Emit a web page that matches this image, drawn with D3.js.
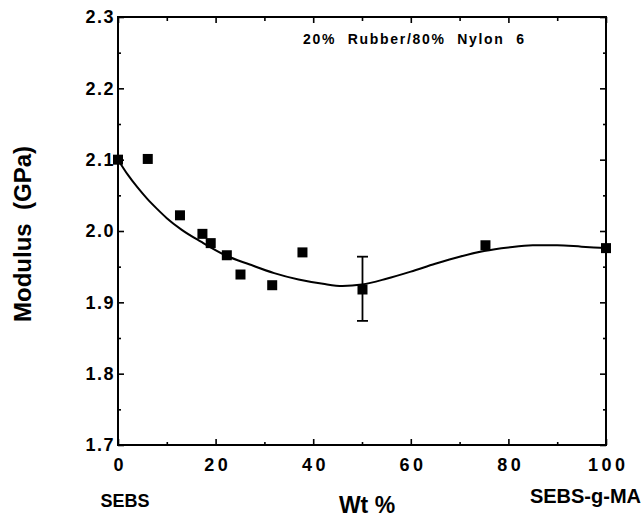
<!DOCTYPE html>
<html>
<head>
<meta charset="utf-8">
<script src="https://cdn.jsdelivr.net/npm/d3@7"></script>
<style>
  html, body { margin: 0; padding: 0; background: #fff; }
  svg { display: block; }
  text { font-family: "Liberation Sans", Arial, Helvetica, sans-serif; font-weight: bold; fill: #000; }
</style>
</head>
<body>
<svg id="chart" width="644" height="518"></svg>
<script>
// Modulus of 20% rubber / 80% nylon 6 blends vs. SEBS-g-MA fraction in the rubber phase
const wtPercent = [0, 6.1, 12.7, 17.3, 19.0, 22.3, 25.1, 31.6, 37.8, 50.1, 75.3, 100];
const modulus   = [2.100, 2.101, 2.022, 1.996, 1.983, 1.966, 1.939, 1.924, 1.970, 1.918, 1.980, 1.976];

// error bar at the 50 wt% point
const errX = [50.1];
const errLow = [1.874];
const errHigh = [1.964];

// smooth fit curve through the data
const fitX = [0, 2, 4, 6, 8, 10, 13, 17, 22, 27, 32, 37, 42, 46, 50, 55, 60, 65, 70, 75, 80, 85, 90, 95, 100];
const fitY = [2.100, 2.079, 2.061, 2.045, 2.031, 2.018, 2.002, 1.985, 1.966, 1.953, 1.941, 1.932, 1.926, 1.923, 1.925, 1.933, 1.943, 1.954, 1.964, 1.972, 1.977, 1.980, 1.980, 1.978, 1.976];

const xMajor = [0, 20, 40, 60, 80, 100];
const xMinor = [10, 30, 50, 70, 90];
const yMajor = [1.7, 1.8, 1.9, 2.0, 2.1, 2.2, 2.3];
const yMinor = [1.75, 1.85, 1.95, 2.05, 2.15, 2.25];

const svg = d3.select("#chart");
const plotL = 118, plotR = 606, plotT = 17, plotB = 445;

const x = d3.scaleLinear().domain([0, 100]).range([plotL, plotR]);
const y = d3.scaleLinear().domain([1.7, 2.3]).range([plotB, plotT]);

function styleAxis(g) {
  g.select(".domain").remove();
  g.selectAll(".tick line").attr("stroke", "#000").attr("stroke-width", 1.6);
}

// bottom axis: inward ticks, labelled majors
svg.append("g").attr("transform", `translate(0,${plotB})`)
  .call(d3.axisBottom(x).tickValues(xMinor).tickSize(-3).tickFormat(""))
  .call(styleAxis);
const xAx = svg.append("g").attr("transform", `translate(0,${plotB})`)
  .call(d3.axisBottom(x).tickValues(xMajor).tickSize(-6).tickPadding(13).tickFormat(d3.format("d")))
  .call(styleAxis);
xAx.selectAll("text")
  .attr("font-size", 18).attr("fill", "#000")
  .style("letter-spacing", "3.5px").attr("dx", "1.75px");

// top axis: inward ticks, no labels
svg.append("g").attr("transform", `translate(0,${plotT})`)
  .call(d3.axisTop(x).tickValues(xMinor).tickSize(-4).tickFormat(""))
  .call(styleAxis);
svg.append("g").attr("transform", `translate(0,${plotT})`)
  .call(d3.axisTop(x).tickValues(xMajor).tickSize(-6).tickFormat(""))
  .call(styleAxis);

// left axis
svg.append("g").attr("transform", `translate(${plotL},0)`)
  .call(d3.axisLeft(y).tickValues(yMinor).tickSize(-3).tickFormat(""))
  .call(styleAxis);
const yAx = svg.append("g").attr("transform", `translate(${plotL},0)`)
  .call(d3.axisLeft(y).tickValues(yMajor).tickSize(-6).tickPadding(3).tickFormat(d3.format(".1f")))
  .call(styleAxis);
yAx.selectAll("text")
  .attr("font-size", 18).attr("fill", "#000")
  .style("letter-spacing", "1.5px");

// right axis
svg.append("g").attr("transform", `translate(${plotR},0)`)
  .call(d3.axisRight(y).tickValues(yMinor).tickSize(-3).tickFormat(""))
  .call(styleAxis);
svg.append("g").attr("transform", `translate(${plotR},0)`)
  .call(d3.axisRight(y).tickValues(yMajor).tickSize(-6).tickFormat(""))
  .call(styleAxis);

// plot frame
svg.append("rect")
  .attr("x", plotL).attr("y", plotT)
  .attr("width", plotR - plotL).attr("height", plotB - plotT)
  .attr("fill", "none").attr("stroke", "#000").attr("stroke-width", 2);

// fit curve
const fitPts = fitX.map((d, i) => [d, fitY[i]]);
svg.append("path")
  .datum(fitPts)
  .attr("fill", "none").attr("stroke", "#000").attr("stroke-width", 2)
  .attr("d", d3.line().x(d => x(d[0])).y(d => y(d[1])).curve(d3.curveMonotoneX));

// error bar
errX.forEach((d, i) => {
  const g = svg.append("g").attr("stroke", "#000").attr("stroke-width", 1.8);
  g.append("line").attr("x1", x(d)).attr("x2", x(d)).attr("y1", y(errLow[i])).attr("y2", y(errHigh[i]));
  g.append("line").attr("x1", x(d) - 5.5).attr("x2", x(d) + 5.5).attr("y1", y(errLow[i])).attr("y2", y(errLow[i]));
  g.append("line").attr("x1", x(d) - 5.5).attr("x2", x(d) + 5.5).attr("y1", y(errHigh[i])).attr("y2", y(errHigh[i]));
});

// data squares
const sq = 10;
svg.append("g").selectAll("rect")
  .data(wtPercent.map((d, i) => [d, modulus[i]]))
  .join("rect")
  .attr("x", d => x(d[0]) - sq / 2).attr("y", d => y(d[1]) - sq / 2)
  .attr("width", sq).attr("height", sq).attr("fill", "#000");

// annotation
svg.append("text")
  .attr("x", 303).attr("y", 44)
  .attr("font-size", 14)
  .style("letter-spacing", "1.7px").style("word-spacing", "6px")
  .style("white-space", "pre")
  .text("20% Rubber/80% Nylon 6");

// axis titles
svg.append("text")
  .attr("transform", `translate(31,234) rotate(-90)`)
  .attr("text-anchor", "middle")
  .attr("font-size", 24)
  .style("white-space", "pre")
  .text("Modulus  (GPa)");

svg.append("text")
  .attr("x", 367).attr("y", 513)
  .attr("text-anchor", "middle")
  .attr("font-size", 23)
  .text("Wt %");

svg.append("text")
  .attr("x", 125).attr("y", 507)
  .attr("text-anchor", "middle")
  .attr("font-size", 18)
  .text("SEBS");

svg.append("text")
  .attr("x", 641).attr("y", 503)
  .attr("text-anchor", "end")
  .attr("font-size", 20)
  .text("SEBS-g-MA");
</script>
</body>
</html>
